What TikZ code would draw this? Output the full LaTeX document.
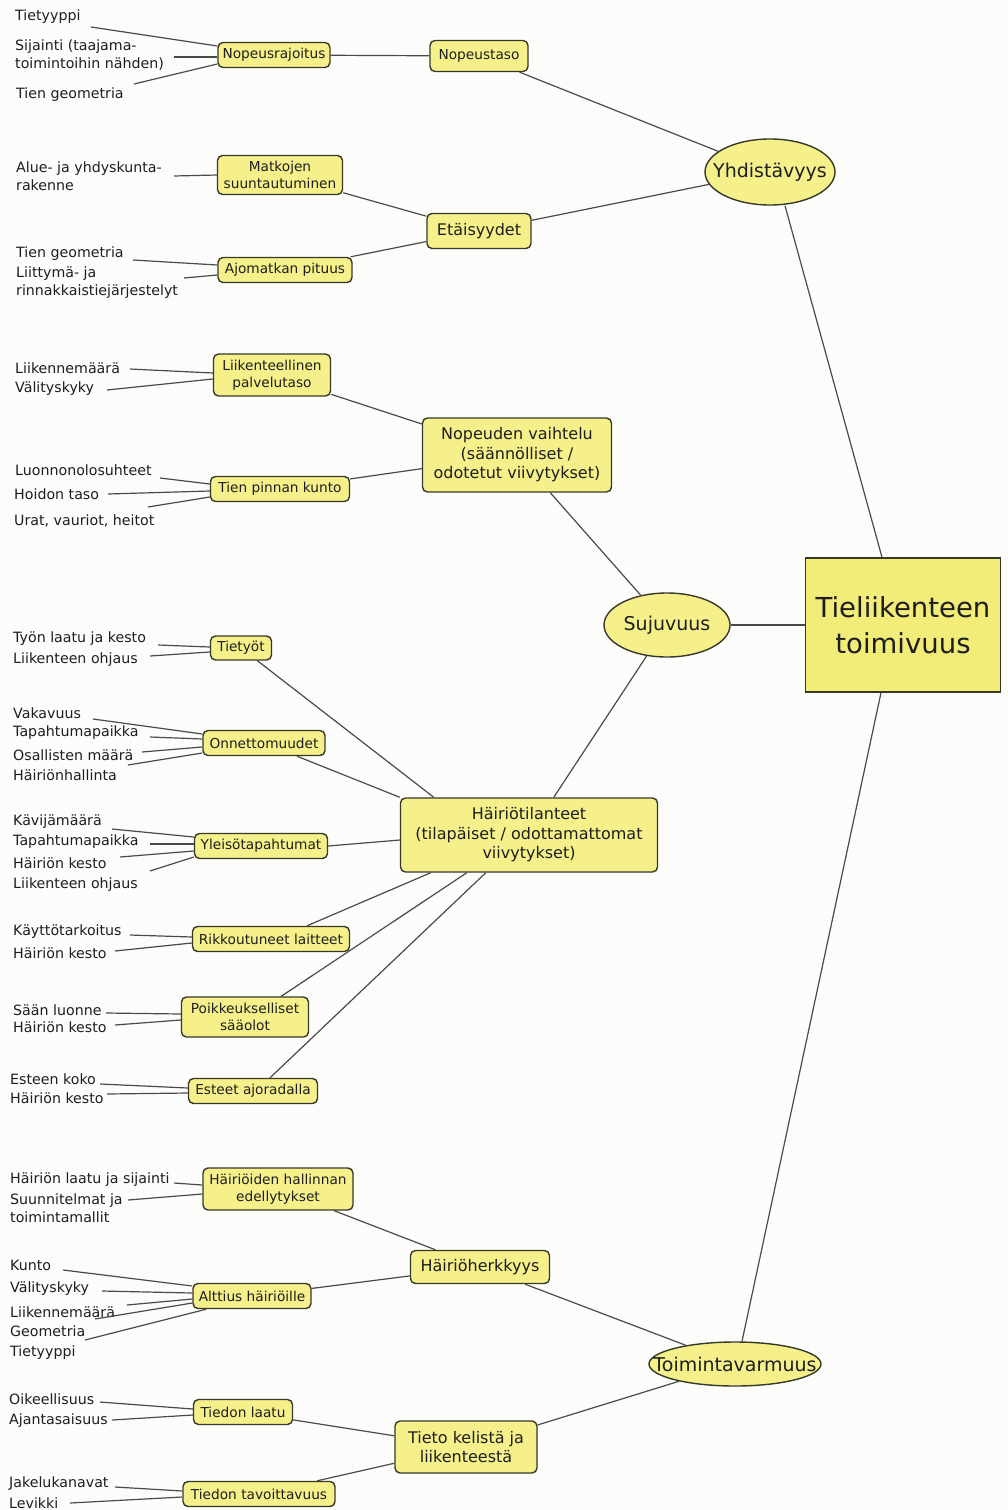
\documentclass[tikz,border=0pt]{standalone}
\usepackage{fontspec}
\setmainfont{DejaVu Sans}
\usetikzlibrary{shapes.geometric}
\definecolor{boxc}{HTML}{F5F08A}
\definecolor{mainc}{HTML}{F2EC78}
\definecolor{bordc}{HTML}{38382A}
\definecolor{linec}{HTML}{4A4A4A}
\definecolor{txtc}{HTML}{1E1E1E}
\definecolor{bgc}{HTML}{FCFCFA}
\begin{document}
\begin{tikzpicture}[x=1pt,y=-1pt,
 leaf/.style={anchor=west,inner sep=0pt,align=left,text=txtc,font=\fontsize{14.2}{18}\selectfont},
 sbox/.style={draw=bordc,line width=1.4pt,rounded corners=5pt,fill=boxc,inner sep=0pt,align=center,text=txtc,font=\fontsize{13.7}{17.5}\selectfont},
 mbox/.style={sbox,font=\fontsize{16}{19.5}\selectfont},
 oval/.style={ellipse,draw=bordc,line width=1.4pt,fill=boxc,inner sep=0pt,text=txtc,font=\fontsize{19}{22}\selectfont},
 mainbox/.style={rectangle,draw=bordc,line width=1.4pt,fill=mainc,inner sep=0pt,align=center,text=txtc,font=\fontsize{27.5}{36}\selectfont},
 conn/.style={draw=linec,line width=1.2pt},
 boxsize/.style 2 args={minimum width=#1pt,minimum height=#2pt}
]
\fill[bgc] (0,0) rectangle (1008,1510);
\useasboundingbox (0,0) rectangle (1008,1510);

% ---------- main nodes ----------
\node[mainbox,boxsize={195}{134}] (tt) at (903,625) {Tieliikenteen\\toimivuus};
\node[oval,boxsize={130}{66}] (yh) at (770,172) {\makebox[0pt]{Yhdistävyys}};
\node[oval,boxsize={126}{64}] (su) at (667,625) {\makebox[0pt]{Sujuvuus}};
\node[oval,boxsize={172}{44}] (tv) at (735,1364) {\makebox[0pt]{Toimintavarmuus}};

% ---------- Yhdistävyys branch ----------
\node[sbox,boxsize={112}{25}] (nr) at (274,55) {Nopeusrajoitus};
\node[sbox,boxsize={98}{31}] (nt) at (479,56) {Nopeustaso};
\node[sbox,boxsize={125}{39}] (ms) at (280,175) {Matkojen\\suuntautuminen};
\node[mbox,boxsize={104}{35}] (et) at (479,231) {Etäisyydet};
\node[sbox,boxsize={134}{25}] (ap) at (285,270) {Ajomatkan pituus};

\node[leaf] (l1) at (15,17) {Tietyyppi};
\node[leaf] (l2) at (15,55) {Sijainti (taajama-\\toimintoihin nähden)};
\node[leaf] (l3) at (16,95) {Tien geometria};
\node[leaf] (l4) at (16,176) {Alue- ja yhdyskunta-\\rakenne};
\node[leaf] (l5) at (16,254) {Tien geometria};
\node[leaf] (l6) at (16,283) {Liittymä- ja\\rinnakkaistiejärjestelyt};

\coordinate (c1) at (91,27);
\coordinate (c2) at (174,57);
\coordinate (c3) at (134,84);
\coordinate (c4) at (174,176);
\coordinate (c5) at (133,260);
\coordinate (c6) at (184,278);
\draw[conn] (c1) -- ([yshift=9pt]nr.west);
\draw[conn] (c2) -- ([yshift=-2pt]nr.west);
\draw[conn] (c3) -- ([yshift=-9pt]nr.west);
\draw[conn] (c4) -- (ms.west);
\draw[conn] (c5) -- ([yshift=5pt]ap.west);
\draw[conn] (c6) -- ([yshift=-5pt]ap.west);

\draw[conn] (nr) -- (nt);
\draw[conn] (nt) -- (yh);
\draw[conn] (ms) -- (et);
\draw[conn] (ap) -- (et);
\draw[conn] (et) -- (yh);
\draw[conn] ([xshift=15pt]yh.south) -- ([xshift=-21pt]tt.north);

% ---------- Sujuvuus branch ----------
\node[sbox,boxsize={117}{42}] (lp) at (272,375) {Liikenteellinen\\palvelutaso};
\node[mbox,boxsize={189}{74}] (nv) at (517,455) {Nopeuden vaihtelu\\(säännölliset /\\odotetut viivytykset)};
\node[sbox,boxsize={139}{25}] (tp) at (280,489) {Tien pinnan kunto};

\node[leaf] (m1) at (15,368) {Liikennemäärä};
\node[leaf] (m2) at (15,389) {Välityskyky};
\node[leaf] (m3) at (15,470) {Luonnonolosuhteet};
\node[leaf] (m4) at (14,494) {Hoidon taso};
\node[leaf] (m5) at (14,521) {Urat, vauriot, heitot};

\coordinate (d1) at (130,369);
\coordinate (d2) at (107,390);
\coordinate (d3) at (160,478);
\coordinate (d4) at (108,494);
\coordinate (d5) at (148,507);
\draw[conn] (d1) -- ([yshift=2pt]lp.west);
\draw[conn] (d2) -- ([yshift=-4pt]lp.west);
\draw[conn] (d3) -- ([yshift=5pt]tp.west);
\draw[conn] (d4) -- ([yshift=-2pt]tp.west);
\draw[conn] (d5) -- ([yshift=-8pt]tp.west);

\draw[conn] (lp) -- (nv);
\draw[conn] (tp) -- (nv);
\draw[conn] (nv) -- (su);
\draw[conn] (su) -- (tt);

% ---------- Häiriötilanteet ----------
\node[mbox,boxsize={257}{74}] (ht) at (529,835) {Häiriötilanteet\\(tilapäiset / odottamattomat\\viivytykset)};
\node[sbox,boxsize={61}{24}] (ty) at (241,648) {Tietyöt};
\node[sbox,boxsize={122}{25}] (on) at (264,743) {Onnettomuudet};
\node[sbox,boxsize={133}{25}] (yt) at (261,846) {Yleisötapahtumat};
\node[sbox,boxsize={157}{25}] (rl) at (271,939) {Rikkoutuneet laitteet};
\node[sbox,boxsize={127}{40}] (ps) at (245,1017) {Poikkeukselliset\\sääolot};
\node[sbox,boxsize={129}{25}] (ea) at (253,1091) {Esteet ajoradalla};

\node[leaf] (n1) at (13,639) {Työn laatu ja kesto};
\node[leaf] (n2) at (13,660) {Liikenteen ohjaus};
\node[leaf] (n3) at (13,713) {Vakavuus};
\node[leaf] (n4) at (13,733) {Tapahtumapaikka};
\node[leaf] (n5) at (13,755) {Osallisten määrä};
\node[leaf] (n6) at (13,775) {Häiriönhallinta};
\node[leaf] (n7) at (13,822) {Kävijämäärä};
\node[leaf] (n8) at (13,842) {Tapahtumapaikka};
\node[leaf] (n9) at (13,863) {Häiriön kesto};
\node[leaf] (n10) at (13,885) {Liikenteen ohjaus};
\node[leaf] (n11) at (13,932) {Käyttötarkoitus};
\node[leaf] (n12) at (13,953) {Häiriön kesto};
\node[leaf] (n13) at (13,1010) {Sään luonne};
\node[leaf] (n14) at (13,1027) {Häiriön kesto};
\node[leaf] (n15) at (10,1079) {Esteen koko};
\node[leaf] (n16) at (10,1098) {Häiriön kesto};

\coordinate (e1) at (158,645);
\coordinate (e2) at (150,656);
\coordinate (e3) at (93,719);
\coordinate (e4) at (150,737);
\coordinate (e5) at (142,752);
\coordinate (e6) at (128,765);
\coordinate (e7) at (112,829);
\coordinate (e8) at (150,844);
\coordinate (e9) at (120,857);
\coordinate (e10) at (150,871);
\coordinate (e11) at (130,935);
\coordinate (e12) at (115,951);
\coordinate (e13) at (106,1013);
\coordinate (e14) at (115,1025);
\coordinate (e15) at (100,1084);
\coordinate (e16) at (107,1094);
\draw[conn] (e1) -- ([yshift=1pt]ty.west);
\draw[conn] (e2) -- ([yshift=-4pt]ty.west);
\draw[conn] (e3) -- ([yshift=9pt]on.west);
\draw[conn] (e4) -- ([yshift=4pt]on.west);
\draw[conn] (e5) -- ([yshift=-4pt]on.west);
\draw[conn] (e6) -- ([yshift=-10pt]on.west);
\draw[conn] (e7) -- ([yshift=9pt]yt.west);
\draw[conn] (e8) -- ([yshift=2pt]yt.west);
\draw[conn] (e9) -- ([yshift=-5pt]yt.west);
\draw[conn] (e10) -- ([yshift=-11pt]yt.west);
\draw[conn] (e11) -- ([yshift=2pt]rl.west);
\draw[conn] (e12) -- ([yshift=-4pt]rl.west);
\draw[conn] (e13) -- ([yshift=3pt]ps.west);
\draw[conn] (e14) -- ([yshift=-3pt]ps.west);
\draw[conn] (e15) -- ([yshift=3pt]ea.west);
\draw[conn] (e16) -- ([yshift=-2pt]ea.west);

\draw[conn] (ty) -- ([xshift=34pt]ht.north west);
\draw[conn] (on) -- (ht.north west);
\draw[conn] (yt.east) -- ([yshift=-5pt]ht.west);
\draw[conn] ([xshift=36pt]rl.north) -- ([xshift=31pt]ht.south west);
\draw[conn] ([xshift=-28pt]ps.north east) -- ([xshift=67pt]ht.south west);
\draw[conn] ([xshift=17pt]ea.north) -- ([xshift=86pt]ht.south west);
\draw[conn] (ht) -- (su);

% ---------- Toimintavarmuus branch ----------
\node[sbox,boxsize={150}{42}] (he) at (278,1189) {Häiriöiden hallinnan\\edellytykset};
\node[mbox,boxsize={139}{33}] (hh) at (480,1267) {Häiriöherkkyys};
\node[sbox,boxsize={118}{25}] (ah) at (252,1296) {Alttius häiriöille};
\node[sbox,boxsize={99}{25}] (tl) at (243,1412) {Tiedon laatu};
\node[mbox,boxsize={142}{52}] (tk) at (466,1447) {Tieto kelistä ja\\liikenteestä};
\node[sbox,boxsize={152}{25}] (tw) at (259,1494) {Tiedon tavoittavuus};

\node[leaf] (p1) at (10,1180) {Häiriön laatu ja sijainti};
\node[leaf] (p2) at (10,1208) {Suunnitelmat ja\\toimintamallit};
\node[leaf] (p3) at (10,1265) {Kunto};
\node[leaf] (p4) at (10,1289) {Välityskyky};
\node[leaf] (p5) at (10,1312) {Liikennemäärä};
\node[leaf] (p6) at (10,1331) {Geometria};
\node[leaf] (p7) at (10,1353) {Tietyyppi};
\node[leaf] (p8) at (9,1399) {Oikeellisuus};
\node[leaf] (p9) at (9,1421) {Ajantasaisuus};
\node[leaf] (p10) at (9,1484) {Jakelukanavat};
\node[leaf] (p11) at (9,1503) {Levikki};

\coordinate (f1) at (174,1183);
\coordinate (f2) at (128,1200);
\coordinate (f3) at (63,1270);
\coordinate (f4) at (102,1291);
\coordinate (f5) at (127,1305);
\coordinate (f6) at (95,1319);
\coordinate (f7) at (85,1340);
\coordinate (f8) at (100,1402);
\coordinate (f9) at (112,1420);
\coordinate (f10) at (115,1487);
\coordinate (f11) at (70,1503);
\draw[conn] (f1) -- ([yshift=4pt]he.west);
\draw[conn] (f2) -- ([yshift=-5pt]he.west);
\draw[conn] (f3) -- ([yshift=10pt]ah.west);
\draw[conn] (f4) -- ([yshift=3pt]ah.west);
\draw[conn] (f5) -- ([yshift=-3pt]ah.west);
\draw[conn] (f6) -- ([yshift=-7pt]ah.west);
\draw[conn] (f7) -- ([xshift=14pt]ah.south west);
\draw[conn] (f8) -- ([yshift=3pt]tl.west);
\draw[conn] (f9) -- ([yshift=-3pt]tl.west);
\draw[conn] (f10) -- ([yshift=3pt]tw.west);
\draw[conn] (f11) -- ([yshift=-3pt]tw.west);

\draw[conn] (he) -- (hh);
\draw[conn] (ah) -- (hh);
\draw[conn] (hh) -- (tv);
\draw[conn] (tl) -- (tk);
\draw[conn] (tw) -- (tk);
\draw[conn] (tk) -- (tv);
\draw[conn] ([xshift=-22pt]tt.south) -- ([xshift=7pt]tv.north);
\end{tikzpicture}
\end{document}
